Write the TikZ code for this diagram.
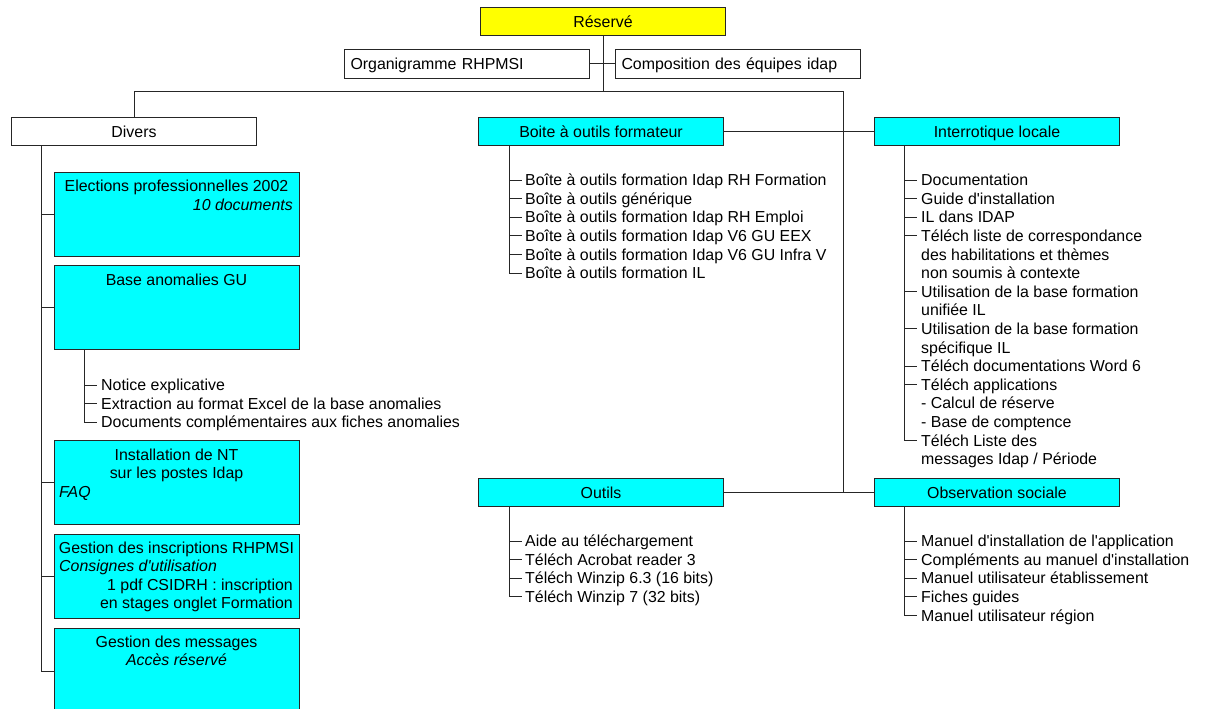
\documentclass[tikz,border=0pt]{standalone}
\usepackage{fontspec}
\setmainfont{Liberation Sans}
\definecolor{aqua}{RGB}{0,255,255}
\definecolor{lemon}{RGB}{255,255,0}
\newcommand{\ap}{\textquotesingle}
\begin{document}
\begin{tikzpicture}[x=1pt,y=-1pt,
  every node/.style={font=\fontsize{15.9}{18.6}\selectfont},
  box/.style={draw=black!85, line width=1pt, minimum width=245pt, minimum height=28pt,
    inner sep=0pt, text height=11.4pt, text depth=0pt, anchor=north west},
  cbox/.style={box, fill=aqua},
  tallbox/.style={cbox, minimum height=84pt},
  leftbox/.style={box, text width=233pt, align=left, inner xsep=6pt},
  txt/.style={inner sep=0pt, text height=11.4pt, text depth=0pt, anchor=base west},
  ctxt/.style={txt, anchor=base},
  rtxt/.style={txt, anchor=base east},
  wire/.style={line width=1pt, draw=black!85},
]
\useasboundingbox[fill=white] (0,0) rectangle (1207,709);

% ---- top level
\node[box, fill=lemon] (res) at (480,7) {Réservé};
\node[leftbox, minimum height=29pt] (org) at (344,49) {Organigramme RHPMSI};
\node[leftbox, minimum height=29pt] (comp) at (615,49) {Composition des équipes idap};
\node[box] (div) at (11,117) {Divers};
\node[cbox] (bof) at (478,117) {Boite à outils formateur};
\node[cbox] (intl) at (874,117) {Interrotique locale};
\node[cbox] (out) at (478,478) {Outils};
\node[cbox] (obs) at (874,478) {Observation sociale};

\coordinate (bus) at (603,91);
\coordinate (spine) at (843,492);
\draw[wire] (res.south) -- (bus);
\draw[wire] (org.east) -- (comp.west);
\draw[wire] (div.north) |- (spine |- bus) -- (spine);
\draw[wire] (bof.east) -- (intl.west);
\draw[wire] (out.east) -- (obs.west);

% ---- Divers column
\node[tallbox] (elec) at (54,172) {};
\node[ctxt] (elec1) at (176.5,191) {Elections professionnelles 2002};
\node[rtxt] (elec2) at (293,210) {\itshape 10 documents};

\node[tallbox] (base) at (54,265) {};
\node[ctxt] (base1) at (176.5,285) {Base anomalies GU};

\node[tallbox] (inst) at (54,440) {};
\node[ctxt] (inst1) at (176.5,460) {Installation de NT};
\node[ctxt] (inst2) at (176.5,478.6) {sur les postes Idap};
\node[txt] (inst3) at (59,497.2) {\itshape FAQ};

\node[tallbox] (gins) at (54,534) {};
\node[ctxt] (gins1) at (176.5,553) {Gestion des inscriptions RHPMSI};
\node[txt] (gins2) at (59,571.6) {\itshape Consignes d\ap utilisation};
\node[rtxt] (gins3) at (293,590.2) {1 pdf CSIDRH : inscription};
\node[rtxt] (gins4) at (293,608.8) {en stages onglet Formation};

\node[tallbox, minimum height=85pt] (msg) at (54,628) {};
\node[ctxt] (msg1) at (176.5,647) {Gestion des messages};
\node[ctxt] (msg2) at (176.5,665.6) {\itshape Accès réservé};

\coordinate (dtrunk) at (41,145);
\draw[wire] (dtrunk) |- (msg.west);
\foreach \b in {elec,base,inst,gins}
  \draw[wire] (\b.west -| dtrunk) -- (\b.west);

% ---- Base anomalies GU items
\foreach \t [count=\i from 0] in {Notice explicative,
    Extraction au format Excel de la base anomalies,
    Documents complémentaires aux fiches anomalies}
  \node[txt] (ba\i) at (101,{390.7+18.6*\i}) {\t};
\coordinate (baT) at ([xshift=30pt]base.south west);
\draw[wire] (baT) |- ([xshift=-4pt]ba2.west);
\foreach \i in {0,1}
  \draw[wire] (ba\i.west -| baT) -- ([xshift=-4pt]ba\i.west);

% ---- Boite a outils formateur items
\foreach \t [count=\i from 0] in {Boîte à outils formation Idap RH Formation,
    Boîte à outils générique,
    Boîte à outils formation Idap RH Emploi,
    Boîte à outils formation Idap V6 GU EEX,
    Boîte à outils formation Idap V6 GU Infra V,
    Boîte à outils formation IL}
  \node[txt] (bo\i) at (525,{185.7+18.6*\i}) {\t};
\coordinate (boT) at ([xshift=31pt]bof.south west);
\draw[wire] (boT) |- ([xshift=-3pt]bo5.west);
\foreach \i in {0,...,4}
  \draw[wire] (bo\i.west -| boT) -- ([xshift=-3pt]bo\i.west);

% ---- Interrotique locale items
\foreach \t [count=\i from 0] in {Documentation,
    Guide d\ap installation,
    IL dans IDAP,
    Téléch liste de correspondance,
    des habilitations et thèmes,
    non soumis à contexte,
    Utilisation de la base formation,
    unifiée IL,
    Utilisation de la base formation,
    spécifique IL,
    Téléch documentations Word 6,
    Téléch applications,
    - Calcul de réserve,
    - Base de comptence,
    Téléch Liste des,
    messages Idap / Période}
  \node[txt] (il\i) at (921,{185.7+18.6*\i}) {\t};
\coordinate (ilT) at ([xshift=30pt]intl.south west);
\draw[wire] (ilT) |- ([xshift=-4pt]il14.west);
\foreach \i in {0,1,2,3,6,8,10,11}
  \draw[wire] (il\i.west -| ilT) -- ([xshift=-4pt]il\i.west);

% ---- Outils items
\foreach \t [count=\i from 0] in {Aide au téléchargement,
    Téléch Acrobat reader 3,
    Téléch Winzip 6.3 (16 bits),
    Téléch Winzip 7 (32 bits)}
  \node[txt] (ou\i) at (525,{546.7+18.6*\i}) {\t};
\coordinate (ouT) at ([xshift=31pt]out.south west);
\draw[wire] (ouT) |- ([xshift=-3pt]ou3.west);
\foreach \i in {0,1,2}
  \draw[wire] (ou\i.west -| ouT) -- ([xshift=-3pt]ou\i.west);

% ---- Observation sociale items
\foreach \t [count=\i from 0] in {Manuel d\ap installation de l\ap application,
    Compléments au manuel d\ap installation,
    Manuel utilisateur établissement,
    Fiches guides,
    Manuel utilisateur région}
  \node[txt] (os\i) at (921,{546.7+18.6*\i}) {\t};
\coordinate (osT) at ([xshift=30pt]obs.south west);
\draw[wire] (osT) |- ([xshift=-4pt]os4.west);
\foreach \i in {0,...,3}
  \draw[wire] (os\i.west -| osT) -- ([xshift=-4pt]os\i.west);
\end{tikzpicture}
\end{document}
